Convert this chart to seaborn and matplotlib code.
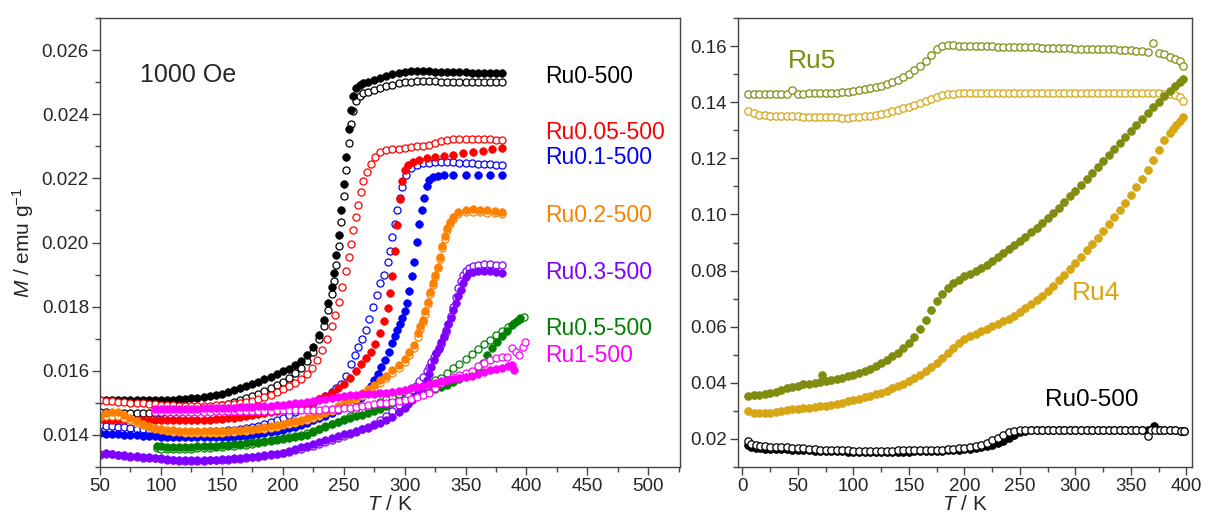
import pandas as pd
import seaborn as sns
import matplotlib.pyplot as plt
from matplotlib.ticker import MultipleLocator, FormatStrFormatter

sns.set_style("ticks")
plt.rcParams["font.family"] = ["Liberation Sans", "DejaVu Sans"]
plt.rcParams["mathtext.fontset"] = "custom"
plt.rcParams["mathtext.rm"] = "Liberation Sans"
plt.rcParams["mathtext.it"] = "Liberation Sans:italic"

# ---- left panel, 1000 Oe : (T / K, M / emu g-1), filled = FC, open = ZFC
ru0_fill = [(50, .01510), (55, .01510), (60, .01509), (65, .01509), (70, .01508), (75, .01508), (80, .01508),
            (85, .01508), (90, .01508), (95, .01508), (100, .01509), (105, .01509), (110, .01510), (115, .01511),
            (120, .01512), (125, .01514), (130, .01516), (135, .01518), (140, .01521), (145, .01524), (150, .01528),
            (155, .01533), (160, .01539), (165, .01545), (170, .01552), (175, .01559), (180, .01566), (185, .01574),
            (190, .01582), (195, .01590), (200, .01598), (205, .01607), (210, .01618), (215, .01632), (220, .01650),
            (225, .01675), (230, .01712), (234, .01758), (237, .01810), (240, .01861), (242, .01904), (244, .01960),
            (246, .02022), (248, .02100), (250, .02183), (252, .02266), (254, .02355), (256, .02414), (258, .02457),
            (260, .02482), (263, .02492), (266, .02496), (270, .02500), (275, .02506), (280, .02512), (285, .02518),
            (290, .02524), (295, .02529), (300, .02533), (305, .02535), (310, .02535), (315, .02534), (320, .02534),
            (325, .02533), (330, .02533), (335, .02532), (340, .02532), (345, .02531), (350, .02531), (355, .02530),
            (360, .02530), (365, .02529), (370, .02529), (375, .02528), (380, .02528)]
ru0_open = [(50, .01470), (55, .01470), (60, .01469), (65, .01469), (70, .01468), (75, .01468), (80, .01468),
            (85, .01468), (90, .01468), (95, .01469), (100, .01469), (105, .01470), (110, .01471), (115, .01472),
            (120, .01474), (125, .01476), (130, .01478), (135, .01481), (140, .01484), (145, .01488), (150, .01492),
            (155, .01497), (160, .01502), (165, .01508), (170, .01514), (175, .01521), (180, .01528), (185, .01536),
            (190, .01545), (195, .01555), (200, .01566), (205, .01578), (210, .01592), (215, .01610), (220, .01632),
            (225, .01660), (230, .01698), (234, .01740), (237, .01790), (240, .01840), (242, .01880), (244, .01930),
            (246, .01990), (248, .02065), (250, .02145), (252, .02225), (254, .02310), (256, .02370), (258, .02410),
            (260, .02440), (263, .02458), (266, .02465), (270, .02470), (275, .02476), (280, .02482), (285, .02487),
            (290, .02492), (295, .02496), (300, .02500), (305, .02502), (310, .02503), (315, .02503), (320, .02503),
            (325, .02503), (330, .02502), (335, .02502), (340, .02502), (345, .02502), (350, .02501), (355, .02501),
            (360, .02501), (365, .02501), (370, .02500), (375, .02500), (380, .02500)]
ru005_fill = [(50, .01450), (55, .01449), (60, .01448), (65, .01448), (70, .01447), (75, .01447), (80, .01446),
              (85, .01446), (90, .01445), (95, .01445), (100, .01445), (105, .01445), (110, .01445), (115, .01445),
              (120, .01445), (125, .01445), (130, .01446), (135, .01447), (140, .01448), (145, .01449), (150, .01450),
              (155, .01452), (160, .01454), (165, .01456), (170, .01458), (175, .01461), (180, .01464), (185, .01467),
              (190, .01470), (195, .01474), (200, .01478), (205, .01482), (210, .01486), (215, .01491), (220, .01497),
              (225, .01504), (230, .01512), (235, .01521), (240, .01532), (245, .01545), (250, .01560), (255, .01578),
              (260, .01600), (264, .01620), (268, .01640), (272, .01660), (276, .01682), (280, .01717), (283, .01755),
              (286, .01795), (288, .01841), (290, .01895), (292, .01975), (294, .02055), (296, .02137), (298, .02193),
              (300, .02225), (303, .02242), (307, .02252), (312, .02258), (318, .02262), (325, .02266), (332, .02270),
              (340, .02274), (348, .02278), (356, .02282), (364, .02286), (372, .02290), (380, .02294)]
ru005_open = [(50, .01509), (55, .01507), (60, .01506), (65, .01504), (70, .01503), (75, .01501), (80, .01500),
              (85, .01498), (90, .01497), (95, .01495), (100, .01494), (105, .01493), (110, .01492), (115, .01491),
              (120, .01491), (125, .01490), (130, .01490), (135, .01490), (140, .01491), (145, .01492), (150, .01493),
              (155, .01495), (160, .01497), (165, .01500), (170, .01503), (175, .01507), (180, .01512), (185, .01518),
              (190, .01525), (195, .01533), (200, .01542), (205, .01552), (210, .01563), (215, .01575), (220, .01590),
              (224, .01610), (228, .01635), (232, .01665), (236, .01700), (240, .01740), (243, .01775), (246, .01815),
              (249, .01860), (252, .01910), (254, .01955), (256, .01996), (258, .02038), (260, .02079), (262, .02118),
              (264, .02157), (266, .02191), (269, .02219), (272, .02245), (276, .02268), (280, .02281), (285, .02287),
              (290, .02290), (295, .02292), (300, .02295), (305, .02297), (310, .02300), (315, .02302), (320, .02305),
              (325, .02310), (330, .02316), (335, .02320), (340, .02322), (345, .02323), (350, .02323), (355, .02323),
              (360, .02323), (365, .02322), (370, .02322), (375, .02321), (380, .02321)]
ru01_fill = [(50, .01405), (55, .01404), (60, .01403), (65, .01402), (70, .01401), (75, .01400), (80, .01399),
             (85, .01398), (90, .01397), (95, .01396), (100, .01395), (105, .01394), (110, .01393), (115, .01393),
             (120, .01392), (125, .01392), (130, .01392), (135, .01392), (140, .01392), (145, .01393), (150, .01393),
             (155, .01394), (160, .01395), (165, .01396), (170, .01398), (175, .01400), (180, .01402), (185, .01405),
             (190, .01408), (195, .01412), (200, .01416), (205, .01421), (210, .01426), (215, .01432), (220, .01438),
             (225, .01445), (230, .01452), (235, .01460), (240, .01468), (245, .01477), (250, .01487), (255, .01498),
             (260, .01508), (264, .01515), (268, .01530), (272, .01552), (275, .01570), (278, .01590), (281, .01612),
             (284, .01635), (287, .01660), (290, .01686), (292, .01708), (294, .01727), (296, .01745), (298, .01764),
             (300, .01785), (302, .01812), (304, .01850), (306, .01895), (308, .01939), (310, .02001), (312, .02059),
             (314, .02100), (316, .02140), (318, .02175), (320, .02195), (323, .02203), (327, .02208), (332, .02211),
             (340, .02212), (350, .02212), (360, .02211), (370, .02210), (380, .02209)]
ru01_open = [(50, .01430), (55, .01429), (60, .01428), (65, .01426), (70, .01424), (75, .01422), (80, .01420),
             (85, .01418), (90, .01416), (95, .01414), (100, .01412), (105, .01411), (110, .01410), (115, .01410),
             (120, .01410), (125, .01410), (130, .01410), (135, .01410), (140, .01411), (145, .01412), (150, .01413),
             (155, .01414), (160, .01416), (165, .01418), (170, .01421), (175, .01424), (180, .01428), (185, .01433),
             (190, .01439), (195, .01446), (200, .01454), (205, .01462), (210, .01471), (215, .01480), (220, .01490),
             (225, .01500), (230, .01511), (235, .01522), (240, .01534), (244, .01545), (248, .01560), (252, .01585),
             (256, .01620), (259, .01650), (262, .01675), (265, .01700), (268, .01728), (271, .01760), (274, .01799),
             (277, .01835), (280, .01873), (283, .01900), (286, .01940), (288, .01975), (290, .02017), (292, .02059),
             (294, .02100), (296, .02140), (298, .02172), (301, .02209), (305, .02233), (310, .02243), (315, .02247),
             (320, .02249), (325, .02250), (330, .02250), (335, .02250), (340, .02250), (345, .02249), (350, .02248),
             (355, .02247), (360, .02246), (365, .02245), (370, .02244), (375, .02243), (380, .02242)]
ru02_fill = [(50, .01460), (55, .01468), (60, .01472), (65, .01470), (70, .01462), (75, .01452), (80, .01443),
             (85, .01435), (90, .01428), (95, .01422), (100, .01418), (105, .01416), (110, .01414), (115, .01413),
             (120, .01412), (125, .01411), (130, .01411), (135, .01411), (140, .01411), (145, .01412), (150, .01412),
             (155, .01413), (160, .01414), (165, .01416), (170, .01418), (175, .01420), (180, .01422), (185, .01425),
             (190, .01428), (195, .01431), (200, .01435), (205, .01439), (210, .01443), (215, .01448), (220, .01453),
             (225, .01459), (230, .01466), (235, .01473), (240, .01481), (245, .01489), (250, .01498), (255, .01508),
             (260, .01518), (265, .01530), (270, .01542), (275, .01555), (280, .01570), (285, .01585), (290, .01601),
             (295, .01618), (300, .01636), (304, .01658), (308, .01680), (311, .01717), (313, .01740), (315, .01758),
             (317, .01785), (319, .01815), (321, .01845), (323, .01875), (325, .01900), (327, .01925), (329, .01955),
             (331, .01990), (333, .02020), (335, .02045), (337, .02065), (340, .02080), (344, .02095), (350, .02100),
             (356, .02103), (362, .02102), (368, .02100), (374, .02098), (380, .02096)]
ru02_open = [(50, .01455), (55, .01458), (60, .01460), (65, .01458), (70, .01452), (75, .01445), (80, .01437),
             (85, .01430), (90, .01424), (95, .01419), (100, .01415), (105, .01412), (110, .01410), (115, .01408),
             (120, .01407), (125, .01406), (130, .01406), (135, .01406), (140, .01406), (145, .01407), (150, .01407),
             (155, .01408), (160, .01409), (165, .01411), (170, .01413), (175, .01415), (180, .01417), (185, .01420),
             (190, .01423), (195, .01426), (200, .01430), (205, .01434), (210, .01438), (215, .01443), (220, .01448),
             (225, .01454), (230, .01460), (235, .01467), (240, .01475), (245, .01483), (250, .01492), (255, .01501),
             (260, .01511), (265, .01522), (270, .01534), (275, .01547), (280, .01561), (285, .01576), (290, .01592),
             (295, .01609), (300, .01627), (304, .01648), (308, .01672), (311, .01705), (313, .01730), (315, .01752),
             (317, .01778), (319, .01808), (321, .01838), (323, .01868), (325, .01893), (327, .01920), (329, .01948),
             (331, .01982), (333, .02012), (335, .02038), (337, .02058), (340, .02074), (344, .02088), (350, .02094),
             (356, .02096), (362, .02095), (368, .02093), (374, .02092), (380, .02090)]
ru03_fill = [(50, .01338), (55, .01345), (60, .01342), (65, .01338), (70, .01336), (75, .01334), (80, .01333),
             (85, .01332), (90, .01331), (95, .01329), (100, .01327), (105, .01325), (110, .01322), (115, .01321),
             (120, .01321), (125, .01321), (130, .01321), (135, .01321), (140, .01322), (145, .01323), (150, .01324),
             (155, .01325), (160, .01327), (165, .01328), (170, .01330), (175, .01332), (180, .01334), (185, .01336),
             (190, .01339), (195, .01342), (200, .01345), (205, .01350), (210, .01355), (215, .01361), (220, .01367),
             (225, .01372), (230, .01378), (235, .01384), (240, .01390), (245, .01396), (250, .01402), (255, .01407),
             (260, .01412), (265, .01417), (270, .01423), (275, .01430), (280, .01437), (285, .01445), (290, .01456),
             (295, .01470), (300, .01485), (303, .01496), (306, .01508), (309, .01520), (312, .01535), (315, .01552),
             (318, .01571), (320, .01590), (322, .01612), (324, .01633), (326, .01655), (328, .01672), (330, .01690),
             (332, .01708), (334, .01727), (336, .01745), (338, .01766), (340, .01790), (342, .01811), (344, .01832),
             (346, .01851), (348, .01875), (350, .01892), (353, .01904), (356, .01908), (360, .01911), (365, .01912),
             (370, .01910), (375, .01907), (380, .01904)]
ru03_open = [(50, .01340), (55, .01342), (60, .01340), (65, .01336), (70, .01333), (75, .01331), (80, .01330),
             (85, .01329), (90, .01328), (95, .01327), (100, .01325), (105, .01323), (110, .01321), (115, .01320),
             (120, .01320), (125, .01320), (130, .01320), (135, .01320), (140, .01321), (145, .01321), (150, .01322),
             (155, .01323), (160, .01325), (165, .01326), (170, .01328), (175, .01330), (180, .01332), (185, .01334),
             (190, .01337), (195, .01340), (200, .01343), (205, .01347), (210, .01352), (215, .01357), (220, .01362),
             (225, .01367), (230, .01372), (235, .01378), (240, .01385), (245, .01391), (250, .01397), (255, .01403),
             (260, .01410), (265, .01417), (270, .01425), (275, .01434), (280, .01445), (285, .01458), (290, .01475),
             (295, .01492), (300, .01510), (303, .01525), (306, .01540), (309, .01553), (312, .01568), (315, .01582),
             (318, .01598), (320, .01612), (322, .01628), (324, .01643), (326, .01655), (328, .01668), (330, .01685),
             (332, .01705), (334, .01722), (336, .01745), (338, .01770), (340, .01800), (342, .01830), (344, .01858),
             (346, .01880), (348, .01898), (350, .01910), (353, .01920), (356, .01927), (360, .01931), (365, .01932),
             (370, .01932), (375, .01931), (380, .01929)]
ru05_fill = [(97, .01365), (100, .01364), (105, .01363), (110, .01362), (115, .01362), (120, .01362), (125, .01363),
             (130, .01364), (135, .01365), (140, .01366), (145, .01367), (150, .01368), (155, .01370), (160, .01371),
             (165, .01373), (170, .01375), (175, .01377), (180, .01379), (185, .01381), (190, .01383), (195, .01386),
             (200, .01389), (205, .01391), (210, .01394), (215, .01397), (220, .01401), (225, .01409), (230, .01418),
             (235, .01427), (240, .01435), (245, .01441), (250, .01447), (255, .01452), (260, .01458), (265, .01463),
             (270, .01469), (275, .01475), (280, .01482), (285, .01490), (290, .01498), (295, .01506), (300, .01513),
             (305, .01519), (310, .01524), (315, .01530), (320, .01535), (325, .01542), (330, .01549), (335, .01557),
             (340, .01566), (345, .01575), (350, .01585), (355, .01595), (360, .01606), (364, .01625), (368, .01648),
             (372, .01670), (376, .01690), (380, .01708), (384, .01725), (388, .01742), (392, .01756), (395, .01766)]
ru05_open = [(97, .01358), (100, .01357), (105, .01356), (110, .01356), (115, .01356), (120, .01356), (125, .01357),
             (130, .01358), (135, .01359), (140, .01360), (145, .01361), (150, .01362), (155, .01364), (160, .01366),
             (165, .01368), (170, .01370), (175, .01372), (180, .01375), (185, .01378), (190, .01381), (195, .01384),
             (200, .01388), (205, .01392), (210, .01396), (215, .01401), (220, .01406), (225, .01412), (230, .01419),
             (235, .01426), (240, .01433), (245, .01441), (250, .01449), (255, .01458), (260, .01467), (265, .01476),
             (270, .01485), (275, .01494), (280, .01503), (285, .01511), (290, .01519), (295, .01527), (300, .01535),
             (305, .01542), (310, .01549), (315, .01556), (320, .01563), (325, .01570), (330, .01578), (335, .01593),
             (340, .01608), (345, .01622), (350, .01637), (355, .01652), (360, .01667), (365, .01682), (370, .01697),
             (375, .01711), (380, .01724), (385, .01737), (390, .01750), (395, .01761), (398, .01768)]
ru1_fill = [(95, .01480), (100, .01481), (105, .01481), (110, .01482), (115, .01482), (120, .01482), (125, .01482),
            (130, .01482), (135, .01483), (140, .01483), (145, .01484), (150, .01484), (155, .01485), (160, .01485),
            (165, .01486), (170, .01487), (175, .01488), (180, .01489), (185, .01490), (190, .01491), (195, .01493),
            (200, .01494), (205, .01496), (210, .01498), (215, .01500), (220, .01503), (225, .01505), (230, .01508),
            (235, .01511), (240, .01515), (245, .01518), (250, .01521), (255, .01523), (260, .01525), (265, .01527),
            (270, .01528), (275, .01529), (280, .01530), (285, .01532), (290, .01534), (295, .01537), (300, .01541),
            (305, .01545), (310, .01549), (315, .01553), (320, .01558), (325, .01562), (330, .01567), (335, .01571),
            (340, .01575), (345, .01578), (350, .01581), (355, .01585), (360, .01590), (365, .01596), (370, .01601),
            (375, .01605), (380, .01610), (385, .01616), (388, .01617), (390, .01603)]
ru1_open = [(95, .01470), (100, .01470), (105, .01471), (110, .01471), (115, .01472), (120, .01472), (125, .01472),
            (130, .01473), (135, .01473), (140, .01473), (145, .01474), (150, .01474), (155, .01474), (160, .01475),
            (165, .01475), (170, .01475), (175, .01475), (180, .01476), (185, .01476), (190, .01476), (195, .01477),
            (200, .01477), (205, .01477), (210, .01477), (215, .01478), (220, .01478), (225, .01479), (230, .01479),
            (235, .01480), (240, .01481), (245, .01482), (250, .01483), (255, .01485), (260, .01487), (265, .01489),
            (270, .01492), (275, .01495), (280, .01498), (285, .01500), (290, .01503), (295, .01505), (300, .01508),
            (305, .01512), (310, .01517), (315, .01524), (320, .01532), (325, .01545), (330, .01562), (335, .01572),
            (340, .01580), (345, .01587), (350, .01594), (355, .01600), (360, .01614), (365, .01625), (370, .01633),
            (375, .01640), (380, .01642), (384, .01643), (388, .01670), (391, .01660), (394, .01649), (397, .01675),
            (399, .01690)]

# ---- right panel
ru5_open = [(5, .1428), (10, .1428), (15, .1428), (20, .1428), (25, .1428), (30, .1428), (35, .1429), (40, .1429),
            (45, .1444), (50, .1430), (55, .1430), (60, .1431), (65, .1431), (70, .1432), (75, .1432), (80, .1433),
            (85, .1434), (90, .1436), (95, .1438), (100, .1440), (105, .1443), (110, .1446), (115, .1449), (120, .1453),
            (125, .1458), (130, .1464), (135, .1471), (140, .1480), (145, .1490), (150, .1502), (155, .1515),
            (160, .1530), (165, .1548), (170, .1568), (175, .1588), (180, .1600), (185, .1603), (190, .1603),
            (195, .1602), (200, .1601), (205, .1601), (210, .1600), (215, .1600), (220, .1599), (225, .1599),
            (230, .1598), (235, .1598), (240, .1597), (245, .1597), (250, .1596), (255, .1596), (260, .1595),
            (265, .1595), (270, .1594), (275, .1594), (280, .1593), (285, .1593), (290, .1592), (295, .1592),
            (300, .1591), (305, .1591), (310, .1590), (315, .1590), (320, .1589), (325, .1589), (330, .1588),
            (335, .1588), (340, .1587), (345, .1586), (350, .1585), (355, .1584), (360, .1582), (365, .1580),
            (370, .1612), (375, .1576), (380, .1570), (385, .1562), (390, .1555), (394, .1547), (397, .1530)]
ru4_open = [(5, .1369), (10, .1360), (15, .1356), (20, .1354), (25, .1352), (30, .1351), (35, .1350), (40, .1350),
            (45, .1349), (50, .1349), (55, .1348), (60, .1348), (65, .1347), (70, .1347), (75, .1346), (80, .1346),
            (85, .1346), (90, .1345), (95, .1345), (100, .1346), (105, .1347), (110, .1349), (115, .1352), (120, .1355),
            (125, .1358), (130, .1362), (135, .1367), (140, .1372), (145, .1378), (150, .1384), (155, .1390),
            (160, .1397), (165, .1405), (170, .1413), (175, .1420), (180, .1425), (185, .1428), (190, .1430),
            (195, .1431), (200, .1431), (205, .1431), (210, .1431), (215, .1431), (220, .1431), (225, .1431),
            (230, .1431), (235, .1431), (240, .1431), (245, .1431), (250, .1431), (255, .1431), (260, .1431),
            (265, .1431), (270, .1431), (275, .1431), (280, .1431), (285, .1431), (290, .1431), (295, .1431),
            (300, .1431), (305, .1431), (310, .1431), (315, .1431), (320, .1431), (325, .1431), (330, .1431),
            (335, .1431), (340, .1431), (345, .1431), (350, .1431), (355, .1431), (360, .1431), (365, .1431),
            (370, .1431), (375, .1431), (380, .1430), (385, .1428), (390, .1424), (394, .1418), (397, .1405)]
ru5_fill = [(5, .0353), (10, .0355), (15, .0357), (20, .0360), (25, .0363), (30, .0368), (35, .0375), (40, .0381),
            (45, .0386), (50, .0390), (55, .0394), (60, .0397), (65, .0400), (70, .0402), (72, .0428), (75, .0405),
            (80, .0409), (85, .0413), (90, .0418), (95, .0423), (100, .0429), (105, .0436), (110, .0443), (115, .0451),
            (120, .0460), (125, .0470), (130, .0481), (135, .0494), (140, .0508), (145, .0525), (150, .0543),
            (155, .0563), (160, .0590), (165, .0625), (170, .0660), (175, .0690), (180, .0716), (185, .0738),
            (190, .0755), (195, .0768), (200, .0779), (205, .0789), (210, .0799), (215, .0810), (220, .0821),
            (225, .0834), (230, .0847), (235, .0861), (240, .0876), (245, .0891), (250, .0906), (255, .0921),
            (260, .0937), (265, .0953), (270, .0970), (275, .0987), (280, .1005), (285, .1024), (290, .1044),
            (295, .1064), (300, .1085), (305, .1106), (310, .1127), (315, .1148), (320, .1170), (325, .1191),
            (330, .1213), (335, .1234), (340, .1256), (345, .1277), (350, .1298), (355, .1319), (360, .1340),
            (365, .1361), (370, .1382), (375, .1402), (380, .1422), (385, .1440), (390, .1458), (394, .1472),
            (397, .1482)]
ru4_fill = [(5, .0298), (10, .0294), (15, .0292), (20, .0292), (25, .0293), (30, .0296), (35, .0299), (40, .0302),
            (45, .0305), (50, .0307), (55, .0309), (60, .0311), (65, .0314), (70, .0316), (75, .0318), (80, .0321),
            (85, .0325), (90, .0329), (95, .0334), (100, .0339), (105, .0344), (110, .0349), (115, .0354), (120, .0359),
            (125, .0365), (130, .0372), (135, .0380), (140, .0388), (145, .0397), (150, .0406), (155, .0417),
            (160, .0429), (165, .0442), (170, .0456), (175, .0472), (180, .0489), (185, .0507), (190, .0525),
            (195, .0541), (200, .0555), (205, .0566), (210, .0575), (215, .0584), (220, .0593), (225, .0602),
            (230, .0611), (235, .0620), (240, .0629), (245, .0639), (250, .0652), (255, .0666), (260, .0680),
            (265, .0695), (270, .0711), (275, .0728), (280, .0746), (285, .0765), (290, .0785), (295, .0806),
            (300, .0828), (305, .0850), (310, .0872), (315, .0894), (320, .0917), (325, .0941), (330, .0965),
            (335, .0990), (340, .1016), (345, .1042), (350, .1069), (355, .1097), (360, .1127), (365, .1160),
            (370, .1195), (375, .1230), (380, .1265), (385, .1290), (388, .1305), (391, .1318), (394, .1332),
            (397, .1346)]
ru0r_fill = [(5, .0178), (8, .0172), (12, .0168), (16, .0166), (20, .0165), (25, .0165), (30, .0164), (35, .0163),
             (40, .0163), (45, .0162), (50, .0161), (55, .0160), (60, .0159), (65, .0158), (70, .0157), (75, .0157),
             (80, .0156), (85, .0156), (90, .0156), (95, .0155), (100, .0155), (105, .0155), (110, .0155),
             (115, .0155), (120, .0155), (125, .0155), (130, .0155), (135, .0155), (140, .0155), (145, .0155),
             (150, .0155), (155, .0156), (160, .0156), (165, .0157), (170, .0157), (175, .0158), (180, .0158),
             (185, .0159), (190, .0160), (195, .0161), (200, .0163), (205, .0165), (210, .0167), (215, .0170),
             (220, .0174), (225, .0179), (230, .0186), (235, .0194), (240, .0204), (245, .0215), (250, .0224),
             (255, .0229), (260, .0231), (265, .0231), (270, .0231), (275, .0231), (280, .0231), (285, .0231),
             (290, .0231), (295, .0231), (300, .0231), (305, .0231), (310, .0231), (315, .0231), (320, .0231),
             (325, .0231), (330, .0231), (335, .0231), (340, .0231), (345, .0231), (350, .0231), (355, .0231),
             (360, .0231), (365, .0231), (371, .0246), (375, .0231), (380, .0231), (385, .0231), (390, .0231),
             (395, .0230), (398, .0230)]
ru0r_open = [(5, .0192), (8, .0183), (12, .0177), (16, .0175), (20, .0174), (25, .0173), (30, .0172), (35, .0171),
             (40, .0170), (45, .0169), (50, .0167), (55, .0166), (60, .0164), (65, .0163), (70, .0162), (75, .0161),
             (80, .0160), (85, .0160), (90, .0159), (95, .0159), (100, .0158), (105, .0158), (110, .0158),
             (115, .0158), (120, .0158), (125, .0158), (130, .0158), (135, .0158), (140, .0159), (145, .0159),
             (150, .0159), (155, .0159), (160, .0160), (165, .0160), (170, .0161), (175, .0161), (180, .0162),
             (185, .0163), (190, .0164), (195, .0166), (200, .0168), (205, .0171), (210, .0175), (215, .0180),
             (220, .0187), (225, .0195), (230, .0205), (235, .0215), (240, .0223), (245, .0229), (250, .0231),
             (255, .0232), (260, .0232), (265, .0232), (270, .0232), (275, .0231), (280, .0231), (285, .0231),
             (290, .0231), (295, .0231), (300, .0231), (305, .0231), (310, .0231), (315, .0231), (320, .0231),
             (325, .0231), (330, .0231), (335, .0231), (340, .0231), (345, .0231), (350, .0231), (355, .0231),
             (360, .0231), (365, .0209), (368, .0231), (372, .0231), (376, .0231), (380, .0231), (385, .0231),
             (390, .0231), (395, .0230), (398, .0230)]

# label text, colour, anchor (T, M)
left_labels = [("Ru0-500", "black", 415, 0.02517), ("Ru0.05-500", "#ff0000", 415, 0.02342),
               ("Ru0.1-500", "#0000ff", 415, 0.02265), ("Ru0.2-500", "#ff8000", 415, 0.02084),
               ("Ru0.3-500", "#8000ff", 415, 0.01907), ("Ru0.5-500", "#008000", 415, 0.01733),
               ("Ru1-500", "#ff00ff", 415, 0.01649)]
OLIVE = "#7f8c10"
GOLD = "#d6a614"
right_labels = [("Ru5", OLIVE, 41, 0.1546), ("Ru4", GOLD, 297, 0.0720), ("Ru0-500", "black", 273, 0.0339)]


def dots(ax, pts, color, filled, s=30):
    df = pd.DataFrame(pts, columns=["T", "M"])
    if filled:
        sns.scatterplot(data=df, x="T", y="M", ax=ax, color=color, edgecolor=color,
                        linewidth=0.5, s=s, marker="o")
    else:
        sns.scatterplot(data=df, x="T", y="M", ax=ax, color="white", edgecolor=color,
                        linewidth=0.9, s=s - 4, marker="o")


def style_axes(ax):
    for sp in ax.spines.values():
        sp.set_color("#444444")
        sp.set_linewidth(1.0)
    ax.tick_params(which="both", direction="out", color="#444444", labelsize=13.5,
                   top=False, right=False)
    ax.tick_params(which="major", length=6, width=1.0, pad=2)
    ax.tick_params(which="minor", length=3.5, width=1.0)
    ax.set_xlabel(r"$T$ / K", fontsize=15, labelpad=0)


fig = plt.figure(figsize=(12.16, 5.21), dpi=100)
axl = fig.add_axes([100 / 1216, 54 / 521, 580 / 1216, 449 / 521])
axr = fig.add_axes([738 / 1216, 54 / 521, 454 / 1216, 449 / 521])

left_series = [(ru0_open, "black", False), (ru0_fill, "black", True),
               (ru005_open, "#ff0000", False), (ru01_open, "#0000ff", False),
               (ru005_fill, "#ff0000", True), (ru01_fill, "#0000ff", True),
               (ru05_open, "#008000", False), (ru05_fill, "#008000", True),
               (ru02_open, "#ff8000", False), (ru02_fill, "#ff8000", True),
               (ru03_open, "#8000ff", False), (ru03_fill, "#8000ff", True),
               (ru1_open, "#ff00ff", False), (ru1_fill, "#ff00ff", True)]
for pts, c, f in left_series:
    dots(axl, pts, c, f)

axl.set_xlim(50, 526)
axl.set_ylim(0.013, 0.027)
axl.xaxis.set_major_locator(MultipleLocator(50))
axl.xaxis.set_minor_locator(MultipleLocator(25))
axl.yaxis.set_major_locator(MultipleLocator(0.002))
axl.yaxis.set_minor_locator(MultipleLocator(0.001))
axl.yaxis.set_major_formatter(FormatStrFormatter("%.3f"))
style_axes(axl)
axl.set_ylabel(r"$M$ / emu g$^{-1}$", fontsize=15, labelpad=4)
axl.text(83, 0.02523, "1000 Oe", fontsize=18, va="center", ha="left")
for txt, c, tx, my in left_labels:
    axl.text(tx, my, txt, color=c, fontsize=16.5, va="center", ha="left")

right_series = [(ru5_open, OLIVE, False), (ru4_open, GOLD, False),
                (ru5_fill, OLIVE, True), (ru4_fill, GOLD, True),
                (ru0r_fill, "black", True), (ru0r_open, "black", False)]
for pts, c, f in right_series:
    dots(axr, pts, c, f, s=32)

axr.set_xlim(-4, 405)
axr.set_ylim(0.01, 0.17)
axr.xaxis.set_major_locator(MultipleLocator(50))
axr.xaxis.set_minor_locator(MultipleLocator(25))
axr.yaxis.set_major_locator(MultipleLocator(0.02))
axr.yaxis.set_minor_locator(MultipleLocator(0.01))
axr.yaxis.set_major_formatter(FormatStrFormatter("%.2f"))
style_axes(axr)
axr.set_ylabel("")
for txt, c, tx, my in right_labels:
    axr.text(tx, my, txt, color=c, fontsize=19 if txt != "Ru0-500" else 17.5, va="center", ha="left")

fig.savefig("out.png", dpi=100)
